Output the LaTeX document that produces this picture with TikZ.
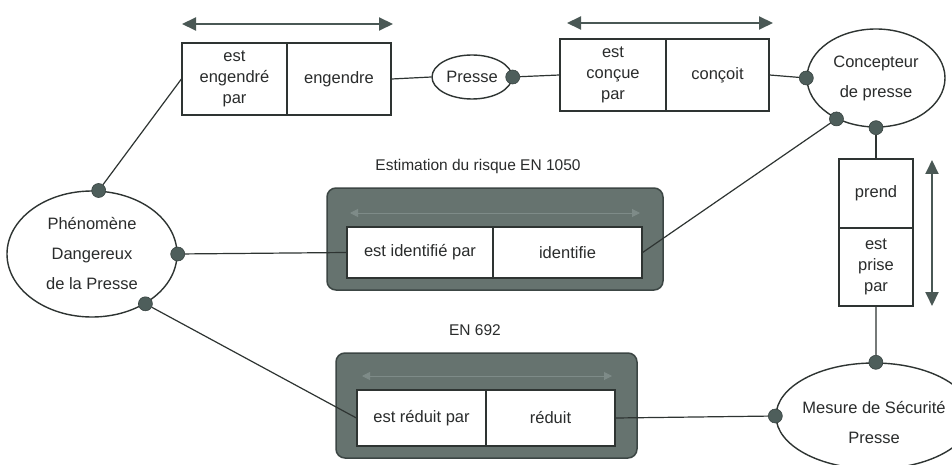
\documentclass[tikz,border=0pt]{standalone}
\usepackage{fontspec}
\setmainfont{Liberation Sans}
\usetikzlibrary{shapes.geometric,arrows.meta}
\definecolor{dotc}{HTML}{4E5E5B}
\definecolor{darkfill}{HTML}{66736F}
\definecolor{darkline}{HTML}{3C4644}
\definecolor{linec}{HTML}{2E3432}
\definecolor{arrc}{HTML}{4A5855}
\definecolor{faint}{HTML}{7E8B88}
\definecolor{txt}{HTML}{2A2C2C}
\tikzset{
  cell/.style={draw=linec, line width=1.2pt, fill=white, inner sep=0pt, align=center,
    font=\fontsize{16.5}{21}\selectfont, text=txt},
  oval/.style={ellipse, draw=linec, line width=1.4pt, inner sep=0pt, fill=white},
  ovaltext/.style={align=center, font=\fontsize{16.5}{30}\selectfont, text=txt},
  dotn/.style={circle, fill=dotc, draw=dotc!70!black, line width=0.6pt, minimum size=14pt, inner sep=0pt},
  conn/.style={draw=linec, line width=1.2pt},
  dbl/.style={draw=arrc, line width=2pt, {Triangle[length=14pt,width=13pt]}-{Triangle[length=14pt,width=13pt]}},
  fnt/.style={draw=faint, line width=1pt, {Triangle[length=8pt,width=8pt]}-{Triangle[length=8pt,width=8pt]}},
  darkbox/.style={draw=darkline, line width=1.5pt, fill=darkfill, rounded corners=9pt, inner sep=0pt},
  lbl/.style={font=\fontsize{15.5}{18}\selectfont, text=txt}
}
\begin{document}
\begin{tikzpicture}[x=1pt, y=-1pt]
\fill[white] (0,0) rectangle (952,465);
\useasboundingbox (0,0) rectangle (952,465);

% dark frames
\node[darkbox, minimum width=336pt, minimum height=102pt] (idframe) at (495,239) {};
\node[darkbox, minimum width=301pt, minimum height=105pt] (redframe) at (486.5,405.5) {};
\coordinate (ida) at (350,213); \coordinate (idb) at (640,213);
\draw[fnt] (ida) -- (idb);
\coordinate (rda) at (362,376); \coordinate (rdb) at (612,376);
\draw[fnt] (rda) -- (rdb);

% cells
\node[cell, minimum width=105pt, minimum height=72pt] (tl1) at (234.5,79) {est\\engendré\\par};
\node[cell, minimum width=104pt, minimum height=72pt] (tl2) at (339,79) {engendre};
\node[cell, minimum width=106pt, minimum height=72pt] (tr1) at (613,75) {est\\conçue\\par};
\node[cell, minimum width=103pt, minimum height=72pt] (tr2) at (717.5,75) {conçoit};
\node[cell, minimum width=146pt, minimum height=51pt] (id1) at (420,252.5) {est identifié par};
\node[cell, minimum width=149pt, minimum height=51pt] (id2) at (567.5,252.5) {identifie};
\node[cell, minimum width=129pt, minimum height=56pt] (rd1) at (421.5,418) {est réduit par};
\node[cell, minimum width=129pt, minimum height=56pt] (rd2) at (550.5,418) {réduit};
\node[cell, minimum width=74pt, minimum height=69pt] (vb1) at (876,193.5) {prend};
\node[cell, minimum width=74pt, minimum height=78pt] (vb2) at (876,267) {est\\prise\\par};

% ellipses
\node[oval, minimum width=170pt, minimum height=126pt] (phen) at (92,254) {};
\node[ovaltext] at (phen.center) {Phénomène\\Dangereux\\de la Presse};
\node[oval, minimum width=80pt, minimum height=44pt] (presse) at (472,77) {};
\node[ovaltext] at (presse.center) {Presse};
\node[oval, minimum width=138pt, minimum height=98pt] (conc) at (876,78) {};
\node[ovaltext] at (conc.center) {Concepteur\\de presse};
\node[oval, minimum width=196pt, minimum height=106pt] (mes) at (874,416) {};
\node[ovaltext] at ([yshift=-7pt]mes.center) {Mesure de Sécurité\\Presse};

% labels
\node[lbl] (lab1) at (478,166) {Estimation du risque EN 1050};
\node[lbl] (lab2) at (475,330) {EN 692};

% arrows
\coordinate (a1) at (182,24); \coordinate (a2) at (393,24);
\draw[dbl] (a1) -- (a2);
\coordinate (b1) at (567,23); \coordinate (b2) at (773,23);
\draw[dbl] (b1) -- (b2);
\coordinate (c1) at (932,160); \coordinate (c2) at (932,306);
\draw[dbl] (c1) -- (c2);

% dots
\node[dotn] (phT) at (phen.84) {};
\node[dotn] (phE) at (phen.east) {};
\node[dotn] (phB) at (phen.-43) {};
\node[dotn] (prE) at (presse.east) {};
\node[dotn] (coW) at (conc.west) {};
\node[dotn] (coB) at (conc.-134) {};
\node[dotn] (coS) at (conc.south) {};
\node[dotn] (meN) at (mes.88) {};
\node[dotn] (meW) at (mes.west) {};

% connectors
\draw[conn] (tl2.east) -- (presse.west);
\draw[conn] (prE) -- (tr1.west);
\draw[conn] (tr2.east) -- (coW);
\draw[conn] (phT) -- (tl1.west);
\draw[conn] (phE) -- (id1.west);
\draw[conn] (id2.east) -- (coB);
\draw[conn] (coS) -- (vb1.north);
\draw[conn] (vb2.south) -- (meN);
\draw[conn] (phB) -- (rd1.west);
\draw[conn] (rd2.east) -- (meW);
\end{tikzpicture}
\end{document}
